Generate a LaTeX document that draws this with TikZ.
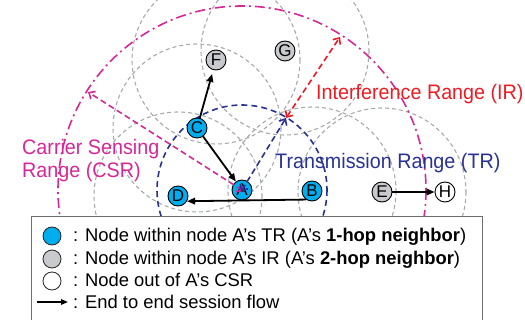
\documentclass[tikz,border=0pt]{standalone}
\usepackage{fontspec}
\setmainfont{Liberation Sans}
\newfontfamily\labfont[FakeStretch=0.94]{Liberation Sans}
\usetikzlibrary{arrows.meta}
\definecolor{tcyan}{RGB}{0,174,239}
\definecolor{tgray}{RGB}{200,202,206}
\definecolor{cgray}{RGB}{165,170,175}
\definecolor{tblue}{RGB}{40,50,150}
\definecolor{tmag}{RGB}{215,40,150}
\definecolor{tred}{RGB}{237,28,36}
\definecolor{boxgray}{RGB}{110,110,110}
\begin{document}
\begin{tikzpicture}[x=1pt,y=-1pt,
  rng/.style={draw=cgray,line width=1.1pt,dash pattern=on 4pt off 3pt},
  trc/.style={draw=tblue,line width=1.6pt,dash pattern=on 6pt off 4pt},
  csrc/.style={draw=tmag,line width=1.6pt,dash pattern=on 10pt off 4pt on 2pt off 4pt},
  nd/.style={circle,draw=black,line width=0.9pt,minimum size=20pt,inner sep=0pt,font=\fontsize{17}{17}\selectfont},
  lg/.style={circle,draw=black!85,line width=0.8pt,minimum size=18pt,inner sep=0pt},
  flow/.style={line width=1.8pt,-{Triangle[length=8pt,width=6.5pt]}},
  rarr/.style={line width=1.6pt,dash pattern=on 6pt off 3.5pt,{Straight Barb[length=5pt,width=9pt]}-{Straight Barb[length=5pt,width=9pt]}},
  lab/.style={anchor=base west,inner sep=0pt,font=\labfont\fontsize{21}{21}\selectfont},
  leg/.style={anchor=base west,inner sep=0pt,font=\fontsize{18.4}{18.4}\selectfont}
]
\useasboundingbox (0,0) rectangle (525,320);
\clip (0,0) rectangle (525,320);
% positions
\coordinate (pA) at (242,190);
\coordinate (pB) at (312,191);
\coordinate (pC) at (197,128);
\coordinate (pD) at (178,196);
\coordinate (pE) at (382,192);
\coordinate (pF) at (216,60);
\coordinate (pG) at (285,51);
\coordinate (pH) at (445,192);
% ranges of neighbours
\foreach \p in {pB,pC,pD,pE,pF,pG}{\draw[rng] (\p) circle[radius=84];}
\draw[trc] (pA) circle[radius=85];
\draw[csrc] (pA) circle[radius=184];
% nodes
\node[nd,fill=tcyan] (A) at (pA) {A};
\node[nd,fill=tcyan] (B) at (pB) {B};
\node[nd,fill=tcyan] (C) at (pC) {C};
\node[nd,fill=tcyan] (D) at (pD) {D};
\node[nd,fill=tgray] (E) at (pE) {E};
\node[nd,fill=tgray] (F) at (pF) {F};
\node[nd,fill=tgray] (G) at (pG) {G};
\node[nd,fill=white] (H) at (pH) {H};
% session flows
\draw[flow,shorten >=4pt] (C) -- (F);
\draw[flow] (C) -- (A);
\draw[flow] (B.235) -- (D.-30);
\draw[flow] (E) -- (H);
% range arrows
\coordinate (tr) at (286,118);
\coordinate (csr) at (340,37);
\coordinate (csl) at (88,92);
\draw[rarr,tmag,shorten <=-2pt] (A.center) -- (csl);
\draw[rarr,tblue,shorten <=-2pt] (A.center) -- (tr);
\draw[rarr,tred] (tr) -- (csr);
% labels
\node[lab,text=tred] (lir) at (316,100) {Interference Range (IR)};
\node[lab,text=tblue] (ltr) at (275,169) {Transmission Range (TR)};
\node[lab,text=tmag] (lcs1) at (22,155) {Carrier Sensing};
\node[lab,text=tmag] (lcs2) at (22,178) {Range (CSR)};
% legend
\draw[draw=boxgray,fill=white,line width=1pt] (31,217) rectangle (482,340);
\node[lg,fill=tcyan] (k1) at (52,236) {};
\node[lg,fill=tgray] (k2) at (52,259) {};
\node[lg,fill=white] (k3) at (52,281) {};
\coordinate (ka) at (37,302);
\coordinate (kb) at (68,302);
\draw[line width=1.5pt,-{Triangle[length=7pt,width=5.5pt]}] (ka) -- (kb);
\node[leg] (t1) at (73,242) {: Node within node A’s TR (A’s \textbf{1-hop neighbor})};
\node[leg] (t2) at (73,265) {: Node within node A’s IR (A’s \textbf{2-hop neighbor})};
\node[leg] (t3) at (73,287) {: Node out of A’s CSR};
\node[leg] (t4) at (73,309) {: End to end session flow};
\end{tikzpicture}
\end{document}
